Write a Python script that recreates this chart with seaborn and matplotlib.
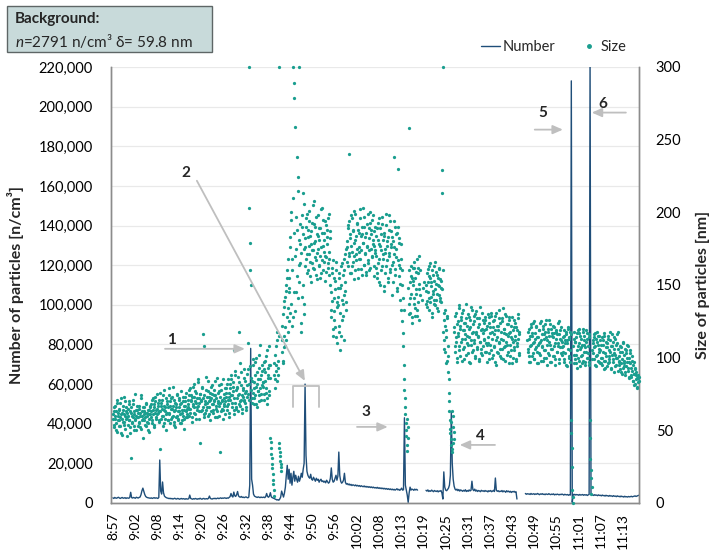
import numpy as np
import pandas as pd
import matplotlib
matplotlib.use("Agg")
import matplotlib.pyplot as plt
import seaborn as sns
from matplotlib.lines import Line2D
from matplotlib.patches import Rectangle
from matplotlib.ticker import FuncFormatter, MultipleLocator

# ---------------------------------------------------------------------------
# Time axis: minutes after 8:57, labels every 5.913 min (category-style axis)
# ---------------------------------------------------------------------------
time_labels = ["8:57", "9:02", "9:08", "9:14", "9:20", "9:26", "9:32", "9:38",
               "9:44", "9:50", "9:56", "10:02", "10:08", "10:13", "10:19",
               "10:25", "10:31", "10:37", "10:43", "10:49", "10:55", "11:01",
               "11:07", "11:13"]
LABEL_STEP = 5.913

# ---------------------------------------------------------------------------
# Particle number concentration [n/cm3], one reading every 15 s
# ---------------------------------------------------------------------------
NUM_STEP = 0.25
number_0857 = [2600, 2300, 2800, 2500, 2400, 2700, 2900, 2500, 2300, 2600,
               2800, 2400, 2500, 2700, 2300, 2600, 2500, 2400, 2800, 5400,
               2700, 2500, 2800, 2600, 2400, 2900, 2700, 2500, 2800, 3000,
               4200, 6200, 7500, 5800, 4300, 3300, 2900, 2700, 2600, 2500]
number_0907 = [2400, 2600, 2300, 2500, 2700, 2400, 2600, 2500, 2300, 2800,
               21700, 6000, 4500, 10600, 5200, 3500, 3000, 2700, 2500, 2400,
               2200, 2400, 2100, 2300, 2000, 2200, 2400, 2100, 2000, 2300,
               2200, 1900, 2100, 2300, 2000, 2200, 2100, 1900, 2200, 2000]
number_0917 = [2000, 2200, 4000, 2300, 2100, 1900, 2200, 2000, 2300, 2100,
               1900, 2200, 2000, 2400, 2100, 1900, 2200, 2300, 2000, 2100,
               2200, 2000, 2400, 3500, 2300, 2100, 2000, 2300, 2200, 2400,
               2100, 2300, 2500, 2200, 2400, 2600, 2300, 2500, 2400, 2600]
number_0927 = [2500, 2300, 2600, 2400, 2800, 3200, 4800, 3500, 3000, 5500,
               3700, 3300, 4200, 5800, 3600, 3100, 2900, 3300, 2800, 3000,
               2700, 2900, 3100, 2800, 2600, 3000, 9000, 78000, 12000, 9000,
               4500, 3500, 3200, 3000, 2800, 3100, 2900, 2700, 3000, 2800]
number_0937 = [2800, 3000, 2700, 3200, 4800, 3300, 2900, 3500, 5200, 3100,
               2700, 2500, 2300, 2000, 1800, 1500, 1700, 1400, 2000, 3000,
               6000, 4500, 3000, 5000, 8000, 14000, 19000, 12000, 17000, 10000,
               15000, 9000, 13000, 16000, 11000, 14000, 12000, 10500, 13500, 11000]
number_0947 = [12500, 15000, 13000, 17000, 20000, 60000, 24000, 16000, 14000, 13000,
               12500, 14500, 12000, 11500, 13000, 12000, 11000, 12500, 11500, 12000,
               10500, 11500, 12000, 10800, 11200, 10500, 11000, 10200, 11500, 10800,
               10000, 10500, 12500, 17700, 12000, 10500, 11000, 12500, 14000, 11500]
number_0957 = [13500, 25700, 14000, 11000, 10000, 10500, 11500, 15000, 10500, 9500,
               9800, 9200, 9600, 9000, 9400, 8800, 9200, 9000, 8700, 9100,
               8600, 8900, 8500, 8800, 8300, 8700, 8400, 8200, 8600, 8100,
               8400, 8000, 8300, 7900, 8200, 7800, 8100, 7700, 8000, 7600]
number_1007 = [7800, 7500, 7900, 7400, 7700, 7300, 7600, 7200, 7500, 7100,
               7400, 7000, 7300, 6900, 7200, 6800, 7100, 6700, 7000, 6600,
               6900, 6500, 6800, 7200, 6600, 6900, 6400, 6800, 7500, 6500,
               6700, 43000, 9000, 6500, 4000, 300, 5000, 8000, 6500, 7000]
number_1017 = [6800, 6400, 7000, 6600, 6900, 6500]
number_1020 = [6400, 6000, 6600, 5800, 6200, 5900, 6500, 6100, 5700, 6300,
               6000, 5800, 6200, 5600, 6100, 5900, 6300, 5000, 2000, 15700,
               8000, 6500, 6200, 6800, 7500, 9000, 14000, 46000, 20000, 12000,
               8500, 7000, 6500, 7000, 6200, 6800, 6000, 6600, 6300, 5900]
number_1030 = [6400, 6000, 6700, 5800, 6300, 5900, 6600, 6100,
               6400, 11000, 6800, 6200, 7000, 6000, 6500, 5800,
               6300, 6100, 5700, 6400, 6000, 6200, 5800, 6300,
               5900, 6100, 5600, 6200, 5900, 6300, 5700, 6000,
               6400, 5800, 12600, 6500, 5900, 6200, 5700, 6000,
               5800, 6300, 5600, 6100, 5900, 5400, 6200, 5700,
               6000, 5500, 5900, 5300, 5800, 5600, 5900, 5400,
               5700, 2000]
number_1047 = [4800, 4400, 4700, 4500, 4600, 4300, 4800, 4400,
               4500, 4700, 4300, 4600, 4400, 4800, 4500, 4200,
               4600, 4400, 4700, 4300, 4500, 4200, 4600, 4400,
               4300, 4700, 4400, 4200, 4500, 4300, 4600, 4100,
               4400, 4200, 4500, 4300, 4100, 4400, 4200, 4500,
               4300, 4000, 4400, 4200, 4100, 4300, 3900, 4200,
               4000, 213000, 300, 4200, 4400, 4000, 4300, 4100,
               4200, 3900, 4300, 4000, 4100, 4300, 3900, 4200,
               4000, 4200, 3800, 4100, 4300, 225000, 4500, 4000,
               4100, 3800, 4200, 3900, 4000, 3700, 4100, 3800,
               3900, 3600, 4000, 3700, 3800, 3500, 3900, 3600,
               3700, 3400, 3800, 3500, 3600, 3300, 3700, 3400,
               3500, 3200, 3600, 3300, 3400, 3100, 3500, 3200,
               3300, 3000, 3400, 3100, 3200, 3000, 3300, 3100,
               3200, 3400, 3100, 3300, 3400, 3600, 3300, 3500,
               3700, 3900]

# (start minute, readings, continuous segment id)
number_blocks = [(0, number_0857, 1), (10, number_0907, 1), (20, number_0917, 1),
                 (30, number_0927, 1), (40, number_0937, 1), (50, number_0947, 1),
                 (60, number_0957, 1), (70, number_1007, 1), (80, number_1017, 1),
                 (83.5, number_1020, 2), (93.5, number_1030, 2),
                 (110, number_1047, 3)]

# ---------------------------------------------------------------------------
# Mean particle size [nm]: readings on the 10 s grid and the ones taken 5 s
# later (None = no reading)
# ---------------------------------------------------------------------------
SIZE_STEP = 1 / 6
size_0857 = [58, 63, 52, 67, 60, 55, 71, 49, 62, 57, 65, 53, 69, 61, 47, 58, 64, 56, 73, 60,
             51, 66, 59, 62, 54, 70, 57, 63, 48, 31, 60, 56, 68, 53, 61, 75, 58, 50, 64, 59,
             62, 55, 67, 52, 60, 72, 57, 63, 45, 61, 66, 54, 59, 69, 56, 62, 50, 64, 58, 61]
size_0857_5s = [61, 54, 66, 58, 50, 63, 69, 57, 60, 53, 64, 59, 72, 48, 62, 56, 67, 61, 54, 70,
                58, 63, 46, 65, 60, 57, 68, 52, 62, 66, 55, 59, 71, 63, 50, 57, 64, 60, 67, 53,
                59, 65, 56, 62, 74, 51, 60, 58, 66, 63, 57, 62, 53, 68, 60, 55, 64, 49, 61, 67]
size_0907 = [66, 59, 71, 55, 64, 68, 52, 62, 73, 58, 65, 61, 69, 57, 63, 76, 37, 67, 60, 71,
             53, 64, 78, 58, 66, 50, 70, 62, 57, 74, 61, 67, 55, 72, 59, 65, 80, 56, 63, 69,
             52, 66, 74, 60, 58, 71, 63, 55, 68, 77, 62, 57, 70, 64, 51, 67, 73, 59, 65, 61]
size_0907_5s = [63, 68, 57, 72, 61, 66, 54, 70, 64, 59, 75, 62, 67, 56, 71, 63, 58, 69, 65, 74,
                60, 67, 55, 63, 72, 61, 68, 57, 66, 79, 62, 70, 58, 65, 73, 60, 67, 54, 71, 64,
                68, 59, 75, 63, 57, 66, 72, 61, 69, 55, 64, 73, 60, 67, 58, 70, 63, 76, 59, 66]
size_0917 = [68, 74, 60, 79, 65, 71, 56, 73, 67, 82, 62, 70, 77, 58, 72, 66, 85, 63, 69, 75,
             41, 71, 64, 80, 116, 59, 108, 70, 62, 78, 73, 66, 84, 61, 70, 76, 57, 72, 68, 81,
             64, 71, 78, 59, 74, 67, 86, 63, 70, 77, 60, 35, 69, 82, 65, 71, 58, 75, 67, 79]
size_0917_5s = [71, 65, 78, 62, 70, 74, 59, 68, 80, 66, 73, 61, 76, 69, 64, 83, 67, 72, 58, 75,
                70, 63, 79, 66, 72, 61, 74, 68, 87, 64, 69, 77, 60, 73, 66, 71, 80, 63, 75, 68,
                62, 74, 70, 84, 65, 72, 59, 76, 69, 81, 67, 73, 63, 78, 70, 64, 85, 68, 72, 61]
size_0927 = [70, 76, 64, 82, 68, 73, 59, 79, 71, 85, 66, 74, 80, 61, 105, 69, 88, 65, 72, 79,
             63, 118, 83, 70, 67, 90, 74, 62, 78, 71, 86, 69, 76, 64, 81, 73, 92, 203, 300, 179,
             160, 150, 84, 72, 95, 68, 79, 88, 74, 100, 66, 82, 77, 93, 70, 85, 109, 75, 81, 91]
size_0927_5s = [73, 79, 67, 85, 71, 76, 62, 82, 74, 88, 69, 77, 83, 64, 72, 91, 78, 66, 80, 74,
                87, 68, 75, 96, 71, 81, 65, 79, 73, 92, 70, 84, 77, 66, 89, 75, 110, 82, 71, 94,
                78, 86, 69, 99, 76, 83, 72, 97, 80, 68, 90, 77, 85, 74, 102, 79, 71, 88, 95, 83]
size_0937 = [80, 92, 71, 98, 84, 76, 105, 68, 88, 95, 74, 86, 45, 38, 31, 24, 16, 9, 88, 102,
             79, 95, 112, 84, 98, 300, 41, 35, 29, 25, 104, 122, 96, 135, 115, 142, 108, 150, 128, 160,
             118, 145, 148, 176, 131, 195, 160, 122, 300, 289, 279, 170, 259, 145, 238, 188, 224, 152, 300, 178]
size_0937_5s = [83, 97, 75, 90, 79, 101, 72, 93, 86, 108, 77, 95, 42, 34, 27, 20, 13, 5, 96, 85,
                108, 91, 118, 88, 93, 115, 38, 32, 27, 22, 112, 98, 130, 107, 139, 121, 146, 112, 155, 134,
                168, 125, 155, 183, 137, 200, 168, 128, 210, 145, 186, 132, 175, 197, 156, 215, 141, 181, 164, 192]
size_0947 = [165, 118, 190, 142, 213, 130, 175, 182, 163, 196, 171, 158, 188, 177, 201, 166, 184, 152, 193, 174,
             162, 208, 179, 169, 190, 157, 185, 172, 198, 164, 181, 155, 189, 176, 167, 203, 160, 186, 173, 194,
             170, 159, 183, 178, 165, 199, 168, 187, 150, 128, 162, 139, 115, 155, 132, 147, 121, 166, 138, 110]
size_0947_5s = [172, 124, 198, 150, 185, 137, 206, 176, 190, 168, 199, 160, 183, 171, 194, 156, 187, 178, 165, 205,
                174, 161, 192, 180, 167, 197, 154, 184, 175, 163, 189, 170, 202, 158, 186, 177, 195, 166, 181, 153,
                191, 169, 188, 162, 196, 173, 157, 182, 145, 133, 158, 120, 167, 141, 126, 153, 114, 160, 135, 148]
size_0957 = [142, 118, 158, 131, 105, 150, 126, 165, 137, 112, 160, 146, 171, 133, 180, 166, 191, 172, 240, 158,
             185, 177, 196, 163, 188, 170, 154, 199, 181, 167, 193, 175, 161, 186, 173, 202, 168, 184, 157, 190,
             179, 164, 197, 171, 183, 159, 192, 176, 165, 189, 174, 200, 162, 185, 170, 195, 178, 156, 187, 172]
size_0957_5s = [136, 155, 122, 148, 163, 115, 140, 157, 129, 168, 143, 152, 175, 138, 176, 189, 163, 194, 170, 182,
                158, 198, 173, 187, 166, 179, 201, 160, 184, 171, 192, 155, 188, 176, 168, 196, 174, 161, 185, 179,
                203, 164, 190, 172, 157, 186, 177, 199, 167, 182, 160, 193, 175, 188, 169, 181, 198, 163, 177, 190]
size_1007 = [174, 162, 189, 155, 181, 168, 196, 150, 177, 185, 163, 192, 171, 146, 184, 175, 158, 199, 167, 180,
             152, 188, 172, 161, 194, 178, 143, 183, 166, 238, 176, 157, 190, 169, 148, 186, 230, 164, 179, 162,
             140, 178, 125, 150, 108, 133, 85, 72, 61, 50, 40, 58, 45, 130, 258, 152, 141, 163, 128, 155]
size_1007_5s = [170, 184, 158, 193, 165, 178, 152, 189, 174, 160, 197, 168, 181, 149, 186, 172, 163, 191, 177, 155,
                183, 170, 198, 159, 176, 187, 164, 180, 152, 194, 171, 161, 185, 175, 146, 190, 167, 182, 156, 151,
                168, 133, 160, 117, 141, 95, 78, 66, 55, 46, 36, 52, 148, 137, 160, 131, 156, 144, 124, 162]
size_1017 = [150, 137, 162, 129, 155, 144, 168, 133, 158, 126, 147, 160, None, None, 140, None, None, None, 152, None,
             None, 146, 158, 135, 152, 141, 163, 138, 155, 149, 131, 160, 144, 153, 137, 166, 147, 140, 157, 134,
             150, 161, 143, 154, 139, 148, 229, 213, 300, 126, 112, 133, 104, 119, 98, 127, 108, 85, 70, 57]
size_1017_5s = [153, 141, 166, 134, 159, 147, 129, 162, 138, 151, 170, 143, None, None, None, 148, None, None, None, None,
                137, 150, 139, 161, 145, 156, 133, 165, 142, 152, 128, 157, 146, 140, 163, 136, 151, 159, 144, 155,
                132, 149, 162, 141, 153, 138, 147, 160, 118, 131, 106, 122, 96, 114, 129, 101, 90, 76, 63, 51]
size_1027 = [48, 40, 63, 37, 52, 44, 118, 104, 129, 111, 97, 123, 115, 134, 108, 120, 101, 126, 113, 131,
             106, 119, 99, 124, 116, 137, 110, 122, 103, 128, 114, 96, 121, 109, 133, 117, 105, 125, 112, 100,
             130, 118, 107, 127, 115, 98, 123, 111, 135, 106, 120, 102, 126, 113, 119, 104, 128, 110, 97, 122]
size_1027_5s = [56, 44, 35, 60, 41, 49, 121, 108, 131, 114, 100, 125, 117, 136, 105, 122, 111, 128, 98, 119,
                133, 107, 124, 113, 102, 127, 115, 130, 109, 120, 97, 126, 112, 135, 104, 118, 123, 110, 129, 101,
                116, 132, 106, 121, 114, 99, 127, 111, 119, 103, 131, 117, 108, 124, 112, 126, 104, 120, 109, 130]
size_1037 = [114, 128, 103, 121, 109, 131, 100, 118, 125, 107, 116, 97, 129, 112, 122, 104, 119, 133, 110, 101,
             124, 113, 106, 127, 99, 117, 120, 108, 130, 111, 102, 123, 115, 96, 126, 109, 118, 105, 128, 113,
             100, 121, 107, 124, 112, 98, 119, 110, 127, 103, 116, None, None, None, None, None, None, None, None, None]
size_1037_5s = [110, 124, 99, 117, 105, 129, 113, 121, 102, 126, 108, 119, 95, 131, 114, 103, 122, 111, 127, 106,
                118, 100, 125, 112, 134, 107, 120, 98, 116, 129, 109, 123, 104, 117, 128, 101, 114, 122, 96, 119,
                111, 126, 105, 115, 99, 121, 108, 130, 113, 102, 118, None, None, None, None, None, None, None, None, None]
size_1047 = [None, None, None, 112, 104, 120, 97, 115, 108, 123, 101, 117, 110, 125, 99, 113, 106, 121, 96, 114,
             109, 119, 103, 124, 111, 98, 116, 107, 122, 100, 113, 118, 105, 126, 95, 112, 120, 102, 115, 109,
             123, 97, 117, 106, 114, 101, 121, 110, 99, 118, 104, 116, 108, 125, 96, 113, 119, 103, 111, 107]
size_1047_5s = [None, None, None, 106, 118, 101, 113, 97, 121, 109, 115, 103, 124, 111, 99, 117, 107, 122, 104, 114,
                96, 119, 110, 102, 125, 112, 108, 120, 98, 116, 105, 123, 100, 114, 109, 118, 103, 126, 111, 97,
                120, 106, 115, 101, 122, 108, 117, 95, 113, 119, 104, 110, 124, 99, 116, 107, 112, 121, 102, 114]
size_1057 = [108, 119, 97, 112, 103, 116, 94, 110, 121, 100, 114, 105, 118, 57, 38, 9, 0, 96, 113, 99,
             111, 102, 117, 93, 108, 120, 98, 106, 115, 101, 109, 96, 118, 104, 112, 95, 107, 119, 100, 113,
             103, 116, 97, 57, 30, 23, 11, 105, 110, 114, 99, 108, 117, 94, 111, 102, 115, 97, 106, 112]
size_1057_5s = [104, 115, 99, 110, 118, 95, 112, 106, 120, 101, 113, 97, 116, 48, 25, 4, 108, 118, 102, 111,
                96, 114, 105, 119, 100, 110, 117, 94, 107, 113, 102, 120, 98, 109, 115, 97, 111, 104, 117, 100,
                108, 95, 114, 45, 17, 6, 99, 112, 103, 116, 107, 95, 113, 101, 118, 98, 109, 104, 115, 96]
size_1107 = [105, 96, 114, 100, 109, 92, 117, 103, 98, 111, 94, 107, 115, 101, 97, 112, 104, 93, 108, 116,
             99, 106, 90, 113, 102, 95, 110, 100, 118, 97, 101, 92, 108, 96, 104, 89, 111, 98, 94, 106,
             90, 103, 97, 109, 93, 100, 87, 105, 96, 88, 101, 91, 84, 97, 89, 93, 82, 90, 86, 79, 88, 84]
size_1107_5s = [100, 109, 95, 112, 104, 98, 115, 93, 107, 101, 110, 96, 113, 99, 105, 118, 92, 108, 102, 111,
                97, 114, 103, 94, 109, 100, 116, 91, 106, 98, 95, 104, 90, 107, 99, 93, 110, 96, 102, 88,
                105, 94, 100, 91, 108, 97, 86, 103, 93, 87, 98, 84, 95, 89, 81, 92, 85, 88, 80, 86, 83, 87]

size_blocks = [(0, size_0857, size_0857_5s), (10, size_0907, size_0907_5s),
               (20, size_0917, size_0917_5s), (30, size_0927, size_0927_5s),
               (40, size_0937, size_0937_5s), (50, size_0947, size_0947_5s),
               (60, size_0957, size_0957_5s), (70, size_1007, size_1007_5s),
               (80, size_1017, size_1017_5s), (90, size_1027, size_1027_5s),
               (100, size_1037, size_1037_5s), (110, size_1047, size_1047_5s),
               (120, size_1057, size_1057_5s), (130, size_1107, size_1107_5s)]

NUM_COLOR = "#1F4E79"
SIZE_COLOR = "#1A9E8F"
ARROW_COLOR = "#BFBFBF"
SPINE_COLOR = "#8C8C8C"


def _as_float(vals):
    return np.array([np.nan if v is None else v for v in vals], dtype=float)


# assemble tidy frames
number_df = pd.concat(
    [pd.DataFrame({"t": start + NUM_STEP * np.arange(len(vals)),
                   "n": np.asarray(vals, dtype=float), "seg": seg})
     for start, vals, seg in number_blocks], ignore_index=True)

size_parts = []
for start, grid_vals, late_vals in size_blocks:
    size_parts.append(pd.DataFrame({"t": start + SIZE_STEP * np.arange(len(grid_vals)),
                                    "d": _as_float(grid_vals)}))
    size_parts.append(pd.DataFrame({"t": start + SIZE_STEP * (np.arange(len(late_vals)) + 0.5),
                                    "d": _as_float(late_vals)}))
size_df = pd.concat(size_parts, ignore_index=True).dropna().sort_values("t")

# ---------------------------------------------------------------------------
sns.set_theme(style="white")
plt.rcParams["font.family"] = ["Lato", "DejaVu Sans"]
plt.rcParams["mathtext.fontset"] = "custom"
plt.rcParams["mathtext.it"] = "Lato:italic"
plt.rcParams["mathtext.rm"] = "Lato"

fig = plt.figure(figsize=(7.15, 5.55), dpi=100)
ax1 = fig.add_axes([111 / 715, 1 - 503 / 555, 528 / 715, 436 / 555])
ax2 = ax1.twinx()

sns.lineplot(data=number_df, x="t", y="n", units="seg", estimator=None,
             color=NUM_COLOR, lw=1.0, ax=ax1, legend=False)
sns.scatterplot(data=size_df, x="t", y="d", color=SIZE_COLOR, s=5.5,
                linewidth=0, ax=ax2, legend=False, clip_on=False, zorder=3)

# axes formatting
ax1.set_xticks(np.arange(len(time_labels)) * LABEL_STEP)
ax1.set_xticklabels(time_labels, rotation=90, fontsize=10)
ax1.yaxis.set_major_locator(MultipleLocator(20000))
ax1.yaxis.set_major_formatter(FuncFormatter(lambda v, p: f"{v:,.0f}"))
ax2.yaxis.set_major_locator(MultipleLocator(50))
ax1.tick_params(axis="y", length=0, pad=13, labelsize=10.5, colors="#000000")
ax1.tick_params(axis="x", length=0, pad=7, colors="#000000")
ax2.tick_params(axis="y", length=0, pad=12, labelsize=10.5, colors="#000000")

ax1.set_xlabel("")
ax1.set_ylabel("Number of particles [n/cm³]", fontsize=11.5, fontweight="bold")
ax2.set_ylabel("Size of particles [nm]", fontsize=11.5, fontweight="bold")
ax1.yaxis.set_label_coords(-0.165, 0.5)
ax2.yaxis.set_label_coords(1.107, 0.5)

ax1.yaxis.grid(True, color="#E9E9E9", lw=0.9)
ax1.set_axisbelow(True)
ax2.grid(False)
for ax in (ax1, ax2):
    ax.spines["top"].set_visible(False)
    for side in ("left", "right", "bottom"):
        ax.spines[side].set_color(SPINE_COLOR)
        ax.spines[side].set_linewidth(1.0)

# numbered event markers
arrow_kw = dict(arrowstyle="-|>,head_length=0.5,head_width=0.22", color=ARROW_COLOR,
                lw=1.3, shrinkA=0, shrinkB=0)
events = [("1", (15.7, 82300), (13.9, 77800), (35.2, 77800)),
          ("2", (19.5, 166700), (22.4, 162600), (51.2, 61600)),
          ("3", (67.5, 46000), (65.1, 38400), (73.3, 38400)),
          ("4", (98.1, 33800), (101.9, 29300), (92.5, 29300)),
          ("5", (114.7, 197000), (112.5, 188400), (120.0, 188400)),
          ("6", (130.7, 201500), (136.8, 197000), (127.7, 197000))]
for label, txt_xy, a_from, a_to in events:
    ax2.annotate("", xy=a_to, xytext=a_from, xycoords=ax1.transData,
                 textcoords=ax1.transData, arrowprops=arrow_kw, zorder=5)
    ax2.text(*txt_xy, label, transform=ax1.transData, fontsize=11,
             fontweight="bold", ha="center", va="center", zorder=5)
ax2.plot([48.0, 48.0, 54.9, 54.9], [48500, 59100, 59100, 48500],
         transform=ax1.transData, color=ARROW_COLOR, lw=1.3, zorder=5,
         solid_joinstyle="round")

ax1.set_xlim(-0.5, 140.3)
ax1.set_ylim(0, 220000)
ax2.set_ylim(0, 300)

# legend above the plot
handles = [Line2D([0], [0], color=NUM_COLOR, lw=1.0),
           Line2D([0], [0], marker="o", ls="", color=SIZE_COLOR, markersize=2.5)]
fig.legend(handles, ["Number", "Size"], loc="center right",
           bbox_to_anchor=(640 / 715, 1 - 47 / 555), ncol=2, frameon=False,
           fontsize=10.5, handlelength=1.3, handletextpad=0.2, columnspacing=1.6)

# background info box
fig.add_artist(Rectangle((7 / 715, 1 - 52 / 555), 205 / 715, 46 / 555,
                         transform=fig.transFigure, facecolor="#C8DADA",
                         edgecolor="#5E6666", lw=1.0))
fig.text(15 / 715, 1 - 19 / 555, "Background:", fontsize=11, fontweight="bold", va="center")
fig.text(15 / 715, 1 - 41 / 555, r"$\mathit{n}$=2791 n/cm³ δ= 59.8 nm", fontsize=11, va="center")

fig.savefig("out.png", dpi=100)
